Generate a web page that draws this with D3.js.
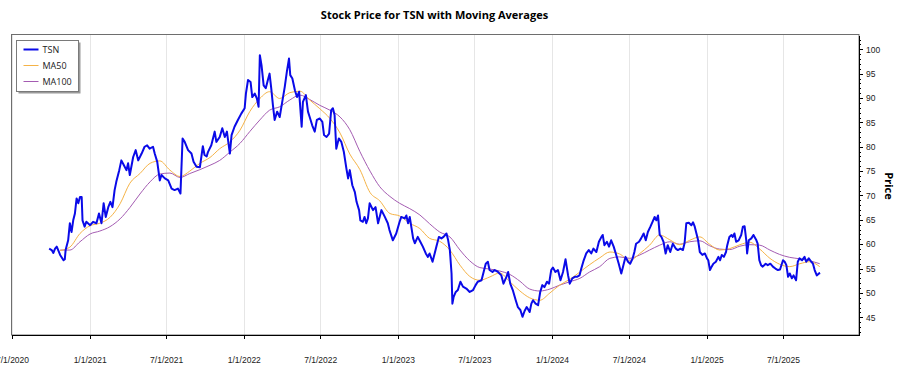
<!DOCTYPE html>
<html>
<head>
<meta charset="utf-8">
<title>Stock Price for TSN with Moving Averages</title>
<script src="https://cdnjs.cloudflare.com/ajax/libs/d3/7.8.5/d3.min.js"></script>
<style>
  body { margin: 0; background: #fff; }
  svg { font-family: "Open Sans", "Noto Sans", sans-serif; }
  .axis path, .axis line { stroke: #000; shape-rendering: crispEdges; }
  .axis text { font-size: 8.5px; fill: #222; }
</style>
</head>
<body>
<div id="viz"></div>
<script>
// TSN closing price
var tsn = [
  ["2020-09-27",59.1],["2020-10-03",58.8],["2020-10-07",58.2],["2020-10-11",59.1],["2020-10-15",59.5],
  ["2020-10-23",57.8],["2020-10-31",56.7],["2020-11-03",56.9],["2020-11-05",58.8],["2020-11-11",60.8],
  ["2020-11-15",64.3],["2020-11-19",62.5],["2020-11-23",64.9],["2020-11-27",66.3],["2020-12-01",69.4],
  ["2020-12-05",68.4],["2020-12-09",69.7],["2020-12-13",69.7],["2020-12-15",64.9],["2020-12-20",63.6],
  ["2020-12-24",64.6],["2021-01-02",63.9],["2021-01-09",64.6],["2021-01-17",64.3],["2021-01-23",66.3],
  ["2021-01-29",64.3],["2021-02-03",68.4],["2021-02-08",65.6],["2021-02-14",67.6],["2021-02-19",68.7],
  ["2021-02-24",67.6],["2021-03-01",71.1],["2021-03-05",72.8],["2021-03-12",75.2],["2021-03-17",77.2],
  ["2021-03-23",76.2],["2021-03-29",75.2],["2021-04-02",76.6],["2021-04-06",74.2],["2021-04-14",77.9],
  ["2021-04-20",79.3],["2021-04-26",77.2],["2021-05-04",78.6],["2021-05-11",80.0],["2021-05-17",80.3],
  ["2021-05-23",79.6],["2021-05-31",80.0],["2021-06-04",78.6],["2021-06-10",76.9],["2021-06-16",73.1],
  ["2021-06-20",74.2],["2021-06-28",73.5],["2021-07-06",73.1],["2021-07-14",71.4],["2021-07-21",71.1],
  ["2021-07-29",71.4],["2021-08-04",70.4],["2021-08-09",81.7],["2021-08-14",81.0],["2021-08-22",79.3],
  ["2021-08-30",78.6],["2021-09-04",76.9],["2021-09-11",75.9],["2021-09-19",75.8],["2021-09-26",80.1],
  ["2021-09-30",78.3],["2021-10-05",78.0],["2021-10-08",78.9],["2021-10-16",80.3],["2021-10-24",83.1],
  ["2021-10-28",81.0],["2021-11-05",82.0],["2021-11-11",83.8],["2021-11-17",82.0],["2021-11-22",83.1],
  ["2021-11-29",78.6],["2021-12-03",82.4],["2021-12-10",84.1],["2021-12-18",85.5],["2021-12-26",86.8],
  ["2022-01-03",87.9],["2022-01-06",90.9],["2022-01-11",93.7],["2022-01-17",93.3],["2022-01-21",90.2],
  ["2022-01-27",90.9],["2022-02-01",89.9],["2022-02-05",88.2],["2022-02-08",98.8],["2022-02-12",96.7],
  ["2022-02-17",92.6],["2022-02-22",92.0],["2022-02-27",93.7],["2022-03-03",95.0],["2022-03-07",92.0],
  ["2022-03-11",88.5],["2022-03-15",85.5],["2022-03-21",87.2],["2022-03-27",86.1],["2022-04-02",89.2],
  ["2022-04-08",92.3],["2022-04-13",95.4],["2022-04-18",98.1],["2022-04-21",94.7],["2022-04-26",94.0],
  ["2022-05-02",91.6],["2022-05-07",90.2],["2022-05-12",91.3],["2022-05-18",84.1],["2022-05-21",89.2],
  ["2022-05-28",90.6],["2022-06-02",87.2],["2022-06-06",86.1],["2022-06-12",84.4],["2022-06-18",83.1],
  ["2022-06-23",85.5],["2022-06-30",85.8],["2022-07-06",85.1],["2022-07-10",82.4],["2022-07-16",82.0],
  ["2022-07-22",82.7],["2022-07-27",87.5],["2022-07-31",87.9],["2022-08-04",86.5],["2022-08-08",79.6],
  ["2022-08-14",81.7],["2022-08-20",81.0],["2022-08-26",78.9],["2022-09-01",75.5],["2022-09-05",73.5],
  ["2022-09-09",75.2],["2022-09-15",72.1],["2022-09-21",70.7],["2022-09-25",68.7],["2022-10-01",67.0],
  ["2022-10-04",64.9],["2022-10-10",64.6],["2022-10-14",65.6],["2022-10-18",64.3],["2022-10-22",65.3],
  ["2022-10-26",68.4],["2022-11-03",67.0],["2022-11-09",67.6],["2022-11-15",64.3],["2022-11-23",67.0],
  ["2022-12-01",65.6],["2022-12-08",64.3],["2022-12-12",62.9],["2022-12-20",60.8],["2022-12-28",62.2],
  ["2023-01-05",64.6],["2023-01-09",65.6],["2023-01-17",65.3],["2023-01-21",65.9],["2023-01-25",64.3],
  ["2023-01-29",65.6],["2023-02-06",61.2],["2023-02-10",60.2],["2023-02-17",61.5],["2023-02-23",60.5],
  ["2023-03-01",59.5],["2023-03-08",58.1],["2023-03-13",57.4],["2023-03-17",58.1],["2023-03-24",56.4],
  ["2023-03-29",58.1],["2023-04-02",59.5],["2023-04-08",61.5],["2023-04-14",61.2],["2023-04-19",61.5],
  ["2023-04-26",62.2],["2023-04-30",60.8],["2023-05-04",58.8],["2023-05-08",54.0],["2023-05-10",47.8],
  ["2023-05-13",49.2],["2023-05-18",50.2],["2023-05-23",50.6],["2023-05-29",52.3],["2023-06-04",51.3],
  ["2023-06-12",50.9],["2023-06-20",50.2],["2023-06-28",50.6],["2023-07-04",51.6],["2023-07-09",52.3],
  ["2023-07-18",52.6],["2023-07-23",54.3],["2023-07-28",56.0],["2023-08-02",56.4],["2023-08-06",54.7],
  ["2023-08-13",54.3],["2023-08-18",54.7],["2023-08-26",54.3],["2023-09-03",53.6],["2023-09-08",51.9],
  ["2023-09-15",53.3],["2023-09-19",54.3],["2023-09-24",51.9],["2023-09-30",50.6],["2023-10-07",48.5],
  ["2023-10-12",47.1],["2023-10-18",46.5],["2023-10-23",45.1],["2023-10-28",46.3],["2023-11-02",47.1],
  ["2023-11-09",46.1],["2023-11-13",47.8],["2023-11-17",48.5],["2023-11-23",47.8],["2023-11-29",47.5],
  ["2023-12-04",50.2],["2023-12-09",51.6],["2023-12-14",51.2],["2023-12-20",52.3],["2023-12-25",51.9],
  ["2023-12-30",54.7],["2024-01-03",55.2],["2024-01-09",54.3],["2024-01-15",54.7],["2024-01-21",52.6],
  ["2024-01-27",54.3],["2024-02-02",56.9],["2024-02-08",53.6],["2024-02-12",51.9],["2024-02-18",53.0],
  ["2024-02-24",53.3],["2024-02-29",53.3],["2024-03-06",53.6],["2024-03-10",54.9],["2024-03-16",56.7],
  ["2024-03-22",58.1],["2024-03-28",58.8],["2024-04-03",58.1],["2024-04-08",59.1],["2024-04-15",58.4],
  ["2024-04-21",60.5],["2024-04-27",61.5],["2024-04-30",61.9],["2024-05-04",59.8],["2024-05-10",60.5],
  ["2024-05-15",59.5],["2024-05-20",60.8],["2024-05-26",59.5],["2024-06-01",57.8],["2024-06-07",56.0],
  ["2024-06-13",54.0],["2024-06-18",55.7],["2024-06-23",57.4],["2024-06-29",56.4],["2024-07-04",56.0],
  ["2024-07-10",57.1],["2024-07-14",58.4],["2024-07-18",60.1],["2024-07-25",60.5],["2024-07-30",61.2],
  ["2024-08-05",62.2],["2024-08-10",60.8],["2024-08-15",62.5],["2024-08-21",63.6],["2024-08-26",64.6],
  ["2024-08-31",65.6],["2024-09-04",64.9],["2024-09-08",65.9],["2024-09-12",61.9],["2024-09-16",61.5],
  ["2024-09-21",60.5],["2024-09-26",58.1],["2024-10-01",59.8],["2024-10-07",58.4],["2024-10-13",60.1],
  ["2024-10-20",59.1],["2024-10-25",58.8],["2024-10-31",59.1],["2024-11-06",58.8],["2024-11-10",60.3],
  ["2024-11-14",64.3],["2024-11-20",64.4],["2024-11-26",63.9],["2024-11-30",64.5],["2024-12-04",63.6],
  ["2024-12-08",62.2],["2024-12-12",60.8],["2024-12-16",58.4],["2024-12-22",57.8],["2024-12-28",58.1],
  ["2025-01-02",57.1],["2025-01-05",56.7],["2025-01-09",54.7],["2025-01-13",55.4],["2025-01-17",56.0],
  ["2025-01-23",56.4],["2025-01-29",57.4],["2025-02-02",56.7],["2025-02-06",57.8],["2025-02-11",57.4],
  ["2025-02-16",58.4],["2025-02-19",59.8],["2025-02-24",61.5],["2025-03-01",61.9],["2025-03-04",61.5],
  ["2025-03-08",62.2],["2025-03-12",60.5],["2025-03-18",60.8],["2025-03-24",61.9],["2025-03-28",63.6],
  ["2025-04-01",63.7],["2025-04-05",60.8],["2025-04-07",58.1],["2025-04-11",60.8],["2025-04-17",61.2],
  ["2025-04-22",61.9],["2025-04-29",60.8],["2025-05-02",60.1],["2025-05-06",56.7],["2025-05-10",55.7],
  ["2025-05-14",55.4],["2025-05-21",56.0],["2025-05-26",55.7],["2025-06-01",56.0],["2025-06-07",55.4],
  ["2025-06-13",55.0],["2025-06-19",54.7],["2025-06-24",54.8],["2025-07-01",56.7],["2025-07-05",56.4],
  ["2025-07-09",55.7],["2025-07-13",53.3],["2025-07-17",54.0],["2025-07-22",53.0],["2025-07-26",53.6],
  ["2025-08-01",52.6],["2025-08-05",56.4],["2025-08-09",57.1],["2025-08-15",56.7],["2025-08-21",57.4],
  ["2025-08-25",56.4],["2025-08-31",57.1],["2025-09-06",56.4],["2025-09-10",56.0],["2025-09-14",54.7],
  ["2025-09-19",53.6],["2025-09-24",54.0],["2025-09-27",54.1]
];

// moving averages, also (coarser sampling)
var maDates = [
  "2020-10-23","2020-11-15","2020-12-09","2021-01-02","2021-01-25","2021-02-18","2021-03-14","2021-04-06","2021-04-30","2021-05-24",
  "2021-06-16","2021-07-10","2021-08-03","2021-08-26","2021-09-19","2021-10-13","2021-11-05","2021-11-29","2021-12-23","2022-01-15",
  "2022-02-08","2022-03-03","2022-03-27","2022-04-20","2022-05-14","2022-06-06","2022-06-30","2022-07-24","2022-08-17","2022-09-09",
  "2022-10-03","2022-10-27","2022-11-19","2022-12-13","2023-01-05","2023-01-29","2023-02-22","2023-03-17","2023-04-10","2023-05-04",
  "2023-05-28","2023-06-20","2023-07-14","2023-08-07","2023-08-30","2023-09-23","2023-10-17","2023-11-09","2023-12-03","2023-12-27",
  "2024-01-19","2024-02-12","2024-03-07","2024-03-30","2024-04-23","2024-05-17","2024-06-09","2024-07-03","2024-07-27","2024-08-19",
  "2024-09-12","2024-10-06","2024-10-29","2024-11-22","2024-12-16","2025-01-08","2025-02-01","2025-02-25","2025-03-21","2025-04-13",
  "2025-05-07","2025-05-31","2025-06-23","2025-07-17","2025-08-10","2025-09-02","2025-09-26"
];
var ma50 = [
  58.7, 59.4, 62.2, 63.8, 64.3, 65.5, 68.3, 72.5, 74.5, 76.6,
  77.1, 75.2, 73.9, 75.0, 76.6, 77.8, 79.6, 81.0, 83.4, 87.2,
  89.9, 91.3, 89.9, 91.1, 91.4, 89.6, 87.8, 85.8, 82.8, 78.5,
  75.3, 70.6, 68.9, 66.3, 65.8, 64.3, 63.2, 61.2, 60.6, 58.8,
  55.7, 53.4, 52.6, 53.3, 54.1, 52.3, 50.4, 49.0, 48.5, 50.0,
  51.6, 52.8, 54.3, 55.8, 57.2, 58.4, 58.0, 56.7, 58.1, 59.8,
  61.9, 60.9, 59.9, 60.8, 61.5, 60.0, 58.8, 59.1, 59.9, 60.4,
  59.0, 57.1, 55.9, 55.4, 56.0, 56.4, 55.4
];
var ma100 = [
  58.8, 58.8, 60.5, 62.1, 62.7, 63.6, 65.2, 67.5, 70.3, 72.8,
  74.4, 74.6, 73.7, 74.5, 75.3, 76.2, 77.2, 78.9, 80.7, 83.1,
  85.5, 87.5, 88.2, 89.6, 90.6, 89.7, 88.5, 87.5, 86.1, 83.5,
  79.0, 75.0, 71.8, 69.8, 68.4, 67.3, 66.0, 64.2, 62.5, 61.5,
  58.8, 56.6, 55.2, 54.9, 54.5, 53.8, 52.4, 50.8, 50.4, 50.8,
  51.6, 52.3, 53.0, 54.3, 55.4, 57.1, 57.4, 57.1, 57.8, 58.8,
  59.8, 60.5, 60.0, 60.5, 60.7, 59.7, 59.0, 58.9, 59.6, 59.9,
  59.8, 58.8, 57.9, 57.3, 57.0, 56.6, 56.0
];

var xTicks = ["2020-07-01","2021-01-01","2021-07-01","2022-01-01","2022-07-01","2023-01-01",
              "2023-07-01","2024-01-01","2024-07-01","2025-01-01","2025-07-01"];
var xDomain = ["2020-07-01", "2025-12-28"];
var yDomain = [41.37, 102.93];
var yTicks = [45, 50, 55, 60, 65, 70, 75, 80, 85, 90, 95, 100];

var seriesNames = ["TSN", "MA50", "MA100"];
var seriesColors = ["#0a0ae8", "#f5b347", "#a45cb2"];
var seriesWidths = [2, 1, 1];

(function(d3) {

  var w = 900, h = 375;
  var margin = {top: 35, right: 41, bottom: 40, left: 12};
  var width = w - margin.left - margin.right,
      height = h - margin.top - margin.bottom;

  var parse = d3.timeParse("%Y-%m-%d");
  var fmt = d3.timeFormat("%-m/%-d/%Y");

  var xScale = d3.scaleTime().domain(xDomain.map(parse)).range([0, width]);
  var yScale = d3.scaleLinear().domain(yDomain).range([height, 0]);

  var svg = d3.select("#viz").append("svg")
    .attr("width", w)
    .attr("height", h);

  svg.append("text")
    .attr("x", 434.5)
    .attr("y", 19)
    .attr("text-anchor", "middle")
    .style("font-size", "11px")
    .style("font-weight", "bold")
    .text("Stock Price for TSN with Moving Averages");

  var g = svg.append("g")
    .attr("transform", "translate(" + margin.left + "," + margin.top + ")");

  // vertical grid
  g.append("g")
    .selectAll("line")
    .data(xTicks.map(parse))
    .enter().append("line")
    .attr("x1", d => Math.round(xScale(d)) + 0.5)
    .attr("x2", d => Math.round(xScale(d)) + 0.5)
    .attr("y1", 0)
    .attr("y2", height)
    .style("stroke", "#e6e6e6");

  // frame (top / left)
  g.append("rect")
    .attr("x", -0.5).attr("y", -0.5)
    .attr("width", width + 0.5).attr("height", height + 0.5)
    .style("fill", "none")
    .style("stroke", "#6e6e6e");

  // y axis on the right, with minor ticks every 1
  g.append("g")
    .attr("class", "axis")
    .attr("transform", "translate(" + width + ",0)")
    .call(d3.axisRight(yScale).tickValues(d3.range(42, 103, 1)).tickSize(2).tickFormat(""))
    .select(".domain").remove();

  g.append("g")
    .attr("class", "axis")
    .attr("transform", "translate(" + width + ",0)")
    .call(d3.axisRight(yScale).tickValues(yTicks).tickSize(4).tickPadding(3).tickSizeOuter(0));

  g.append("g")
    .attr("class", "axis")
    .attr("transform", "translate(0," + height + ")")
    .call(d3.axisBottom(xScale).tickValues(xTicks.map(parse)).tickFormat(fmt)
      .tickSize(4).tickPadding(18).tickSizeOuter(0));

  var priceLine = d3.line()
    .x(d => xScale(parse(d[0])))
    .y(d => yScale(d[1]));

  var maLine = d3.line()
    .x((d, i) => xScale(parse(maDates[i])))
    .y(d => yScale(d))
    .curve(d3.curveMonotoneX);

  g.append("path")
    .datum(ma100)
    .attr("d", maLine)
    .style("fill", "none")
    .style("stroke", seriesColors[2])
    .style("stroke-width", seriesWidths[2]);

  g.append("path")
    .datum(ma50)
    .attr("d", maLine)
    .style("fill", "none")
    .style("stroke", seriesColors[1])
    .style("stroke-width", seriesWidths[1]);

  g.append("path")
    .datum(tsn)
    .attr("d", priceLine)
    .style("fill", "none")
    .style("stroke", seriesColors[0])
    .style("stroke-width", seriesWidths[0])
    .style("stroke-linejoin", "round");

  // legend
  var legend = svg.append("g").attr("transform", "translate(16.5,40.5)");
  legend.append("rect")
    .attr("x", 2).attr("y", 2).attr("width", 62).attr("height", 51)
    .style("fill", "#9a9a9a");
  legend.append("rect")
    .attr("width", 62).attr("height", 51)
    .style("fill", "#fff")
    .style("stroke", "#7a7a7a");

  var items = legend.selectAll("g.item")
    .data(seriesNames)
    .enter().append("g")
    .attr("transform", (d, i) => "translate(0," + (9 + i * 16) + ")");
  items.append("line")
    .attr("x1", 7).attr("x2", 22)
    .style("stroke", (d, i) => seriesColors[i])
    .style("stroke-width", (d, i) => seriesWidths[i]);
  items.append("text")
    .attr("x", 26)
    .attr("dy", "0.35em")
    .style("font-size", "9px")
    .style("fill", "#222")
    .text(d => d);

  svg.append("text")
    .attr("transform", "translate(885,186) rotate(90)")
    .attr("text-anchor", "middle")
    .style("font-size", "11px")
    .style("font-weight", "bold")
    .text("Price");

})(d3);
</script>
</body>
</html>
